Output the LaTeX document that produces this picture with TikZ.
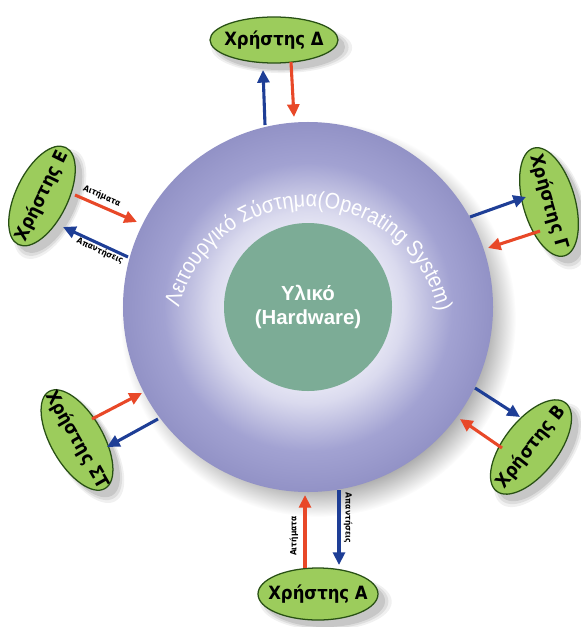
\documentclass[tikz,border=0pt]{standalone}
\usepackage{fontspec}
\setmainfont{Liberation Sans}
\newfontfamily\userfont[FakeStretch=0.9]{DejaVu Sans}
\newfontfamily\ringfont[FakeStretch=0.88]{Liberation Sans}
\usepackage{tikz}
\usetikzlibrary{positioning}
\usetikzlibrary{calc,arrows.meta,shapes.geometric,shadows}
\usetikzlibrary{decorations.text}

\definecolor{OSLav}{RGB}{162,162,210}
\definecolor{OSEdge}{RGB}{146,146,198}
\definecolor{OSGlow}{RGB}{228,228,243}
\definecolor{HWGreen}{RGB}{124,172,150}
\definecolor{UserGreen}{RGB}{156,204,92}
\definecolor{UserLine}{RGB}{40,80,20}
\definecolor{ReqRed}{RGB}{232,72,40}
\definecolor{RespBlue}{RGB}{30,62,150}

\pgfdeclareradialshading{osshade}{\pgfpoint{0bp}{0bp}}{color(0bp)=(OSGlow); color(11bp)=(OSGlow); color(13bp)=(OSGlow!85!OSLav); color(19.5bp)=(OSLav); color(25bp)=(OSEdge); color(50bp)=(OSEdge)}
\pgfdeclareradialshading{osshadow}{\pgfpoint{0bp}{0bp}}{color(0bp)=(black!40); color(21bp)=(black!35); color(25bp)=(white); color(50bp)=(white)}

\newcommand{\osfont}{\ringfont\fontsize{16}{18}\selectfont\color{white}}

\tikzset{
	softshadow/.style={
		drop shadow={shadow xshift=5pt, shadow yshift=-5pt, opacity=.10, fill=black, shadow scale=1.00},
		drop shadow={shadow xshift=5pt, shadow yshift=-5pt, opacity=.08, fill=black, shadow scale=1.05},
		drop shadow={shadow xshift=5pt, shadow yshift=-5pt, opacity=.06, fill=black, shadow scale=1.10}
	},
	user/.style={ellipse, draw=UserLine, line width=0.9pt, fill=UserGreen, inner xsep=-14pt, inner ysep=0pt,
		font=\userfont\bfseries\fontsize{13}{15}\selectfont, softshadow},
	req/.style={ReqRed, line width=2.2pt, -{Triangle[length=9pt,width=8.5pt]}},
	resp/.style={RespBlue, line width=2.2pt, -{Triangle[length=9pt,width=8.5pt]}},
	arrlabel/.style={font=\userfont\bfseries\fontsize{6}{7}\selectfont, inner sep=0pt}
}

\begin{document}
\begin{tikzpicture}[x=0.25mm, y=0.25mm]
	
	% ------------------------------------------------
	% Ensure the dimensions of graphic are appropriate
	\useasboundingbox (0,0) rectangle (581,-627);
	
	% ------------------------------------------------
	% Relevant coordinates
	\coordinate (OSCentre) at (308,-307);
	\coordinate (ArcCentre) at (308,-340);
	
	% ------------------------------------------------
	% Operating system and hardware
	\node[circle, inner sep=0pt, minimum size=99mm, shading=osshadow] (OSShadow) at ($(OSCentre)+(10,-12)$) {};
	\node[circle, inner sep=0pt, minimum size=92.5mm, shading=osshade] (OS) at (OSCentre) {};
	\node[circle, inner sep=0pt, minimum size=42mm, fill=HWGreen, text=white, align=center,
		font=\bfseries\fontsize{14.5}{16.5}\selectfont] (HW) at (OSCentre) {Υλικό\\(Hardware)};
	
	% Label round the ring
	\path[decorate, decoration={text along path, text align=center,
		text={|\osfont|Λειτουργικό Σύστημα(Operating System)}}]
		($(ArcCentre)+(168:133)$) arc[start angle=168, end angle=10, radius=133];
	
	% ------------------------------------------------
	% Users
	\node[user, minimum width=32mm, minimum height=11.5mm] (UserD) at (274,-40) {Χρήστης Δ};
	\node[user, minimum width=27mm, minimum height=13mm, rotate=64] (UserE) at (42,-196) {Χρήστης Ε};
	\node[user, minimum width=28mm, minimum height=13mm, rotate=-74] (UserG) at (549,-202) {Χρήστης Γ};
	\node[user, minimum width=28mm, minimum height=13.5mm, rotate=52] (UserB) at (531,-447) {Χρήστης Β};
	\node[user, minimum width=28mm, minimum height=13mm, rotate=-60] (UserST) at (77,-440) {Χρήστης ΣΤ};
	\node[user, minimum width=30mm, minimum height=13mm] (UserA) at (318,-594) {Χρήστης Α};
	
	% ------------------------------------------------
	% Arrow ends
	\coordinate (DRespBeg) at (265,-125);	\coordinate (DRespEnd) at (263,-70);
	\coordinate (DReqBeg)  at (291,-62);	\coordinate (DReqEnd)  at (294,-117);
	
	\coordinate (EReqBeg)  at (75,-195);	\coordinate (EReqEnd)  at (137,-222);
	\coordinate (ERespBeg) at (128,-257);	\coordinate (ERespEnd) at (63,-227);
	
	\coordinate (GRespBeg) at (470,-217);	\coordinate (GRespEnd) at (526,-197);
	\coordinate (GReqBeg)  at (540,-231);	\coordinate (GReqEnd)  at (488,-248);
	
	\coordinate (BRespBeg) at (475,-388);	\coordinate (BRespEnd) at (520,-417);
	\coordinate (BReqBeg)  at (502,-448);	\coordinate (BReqEnd)  at (460,-419);
	
	\coordinate (STReqBeg)  at (92,-419);	\coordinate (STReqEnd)  at (142,-393);
	\coordinate (STRespBeg) at (158,-419);	\coordinate (STRespEnd) at (107,-447);
	
	\coordinate (AReqBeg)  at (305,-568);	\coordinate (AReqEnd)  at (305,-495);
	\coordinate (ARespBeg) at (339,-490);	\coordinate (ARespEnd) at (339,-565);
	
	% Requests and replies
	\draw[resp] (DRespBeg) -- (DRespEnd);
	\draw[req]  (DReqBeg)  -- (DReqEnd);
	\draw[req]  (EReqBeg)  -- (EReqEnd);
	\draw[resp] (ERespBeg) -- (ERespEnd);
	\draw[resp] (GRespBeg) -- (GRespEnd);
	\draw[req]  (GReqBeg)  -- (GReqEnd);
	\draw[resp] (BRespBeg) -- (BRespEnd);
	\draw[req]  (BReqBeg)  -- (BReqEnd);
	\draw[req]  (STReqBeg) -- (STReqEnd);
	\draw[resp] (STRespBeg) -- (STRespEnd);
	\draw[req]  (AReqBeg)  -- (AReqEnd);
	\draw[resp] (ARespBeg) -- (ARespEnd);
	
	% Arrow labels
	\node[arrlabel, rotate=-24] (EReqLabel)  at (102,-196) {Αιτήματα};
	\node[arrlabel, rotate=-25] (ERespLabel) at (100,-251) {Απαντήσεις};
	\node[arrlabel, rotate=90]  (AReqLabel)  at (294,-536) {Αιτήματα};
	\node[arrlabel, rotate=-90] (ARespLabel) at (348,-518) {Απαντήσεις};
	
\end{tikzpicture}
\end{document}
